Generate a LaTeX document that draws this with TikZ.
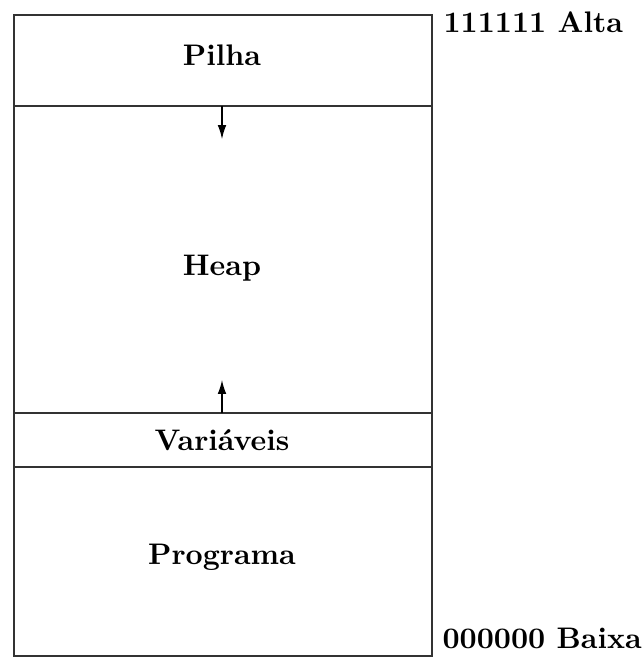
\documentclass[tikz,border=0pt]{standalone}
\usetikzlibrary{arrows.meta}
\begin{document}
\begin{tikzpicture}[x=0.3226pt,y=-0.3226pt,
  lbl/.style={font=\bfseries, inner sep=0pt, scale=0.96},
  side/.style={font=\bfseries, inner sep=0pt, anchor=base west, scale=0.96},
  growarrow/.style={-{Latex[length=4.5pt,width=2.8pt]}, line width=0.4pt},
  box/.style={draw, line width=0.35pt, black!80}]
\useasboundingbox (0,0) rectangle (644,657);
% memory column
\draw[box] (14,15) rectangle (432,656);
\draw[box] (14,106) -- (432,106);
\draw[box] (14,413) -- (432,413);
\draw[box] (14,467) -- (432,467);
% labels
\node[lbl] (pilha) at (222,55) {Pilha};
\node[lbl] (heap) at (222,268) {Heap};
\node[lbl] (vars) at (222,440) {Variáveis};
\node[lbl] (prog) at (222,557) {Programa};
\node[side] (alta) at (443,32) {111111 Alta};
\node[side] (baixa) at (442,648) {000000 Baixa};
% growth arrows
\coordinate (s0) at (222,106);
\coordinate (s1) at (222,139);
\coordinate (h0) at (222,413);
\coordinate (h1) at (222,380);
\draw[growarrow] (s0) -- (s1);
\draw[growarrow] (h0) -- (h1);
\end{tikzpicture}
\end{document}
